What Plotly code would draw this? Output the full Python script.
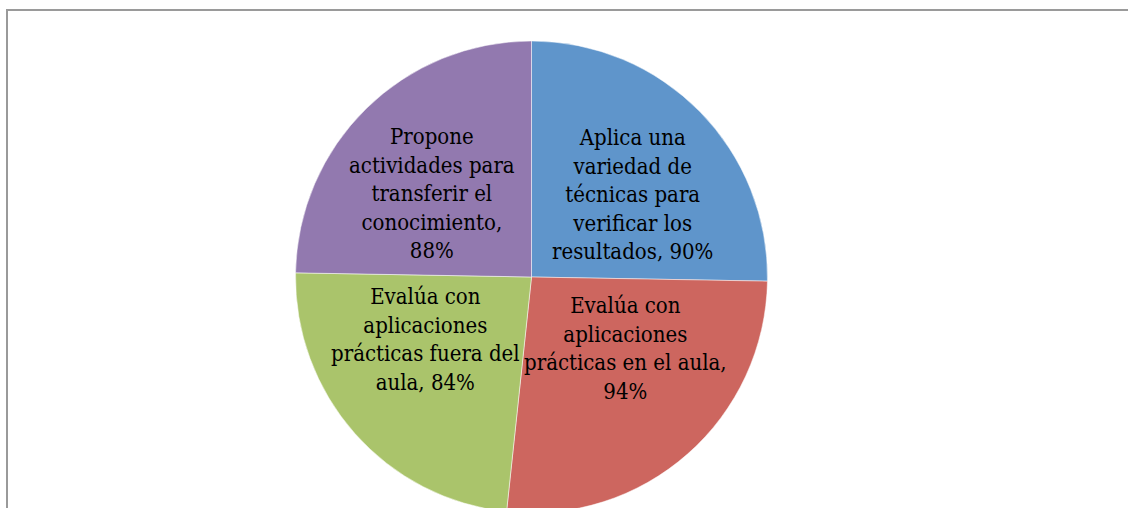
import math
import plotly.graph_objects as go

categories = [
    "Aplica una<br>variedad de<br>técnicas para<br>verificar los<br>resultados",
    "Evalúa con<br>aplicaciones<br>prácticas en el aula",
    "Evalúa con<br>aplicaciones<br>prácticas fuera del<br>aula",
    "Propone<br>actividades para<br>transferir el<br>conocimiento",
]
values = [90, 94, 84, 88]
separators = [", ", ",<br>", ", ", ",<br>"]
colors = ["#5F95CB", "#CD665F", "#AAC46B", "#9279AF"]

W, H = 1128, 508
OFF_Y = 8                      # body top margin of the page
cx, cy, r = 531.5, 277, 236    # screen pixels
fy = cy - OFF_Y                # figure pixel

fig = go.Figure(go.Pie(
    labels=categories,
    values=values,
    sort=False,
    direction="clockwise",
    rotation=0,
    marker=dict(colors=colors, line=dict(color="white", width=0.5)),
    textinfo="none",
    showlegend=False,
    hoverinfo="label+value",
    domain=dict(x=[(cx - r) / W, (cx + r) / W],
                y=[(H - (fy + r)) / H, (H - (fy - r)) / H]),
))

# labels placed at each slice's mid-angle (derived from the values)
total = sum(values)
annotations = []
start = 0.0
for lab, v, sep in zip(categories, values, separators):
    a = math.radians((start + v / 2) / total * 360)
    start += v
    px = cx + 0.60 * r * math.sin(a)
    py = fy - 0.45 * r * math.cos(a) - 8
    annotations.append(dict(
        x=px / W, y=(H - py) / H, xref="paper", yref="paper",
        text=f"{lab}{sep}{v}%", showarrow=False,
        xanchor="center", yanchor="middle", align="center",
        font=dict(family="DejaVu Serif Condensed, DejaVu Serif", size=22, color="black"),
    ))

fig.update_layout(
    width=W, height=H,
    margin=dict(l=0, r=0, t=0, b=0),
    paper_bgcolor="white",
    annotations=annotations,
    shapes=[dict(type="rect", xref="paper", yref="paper",
                 x0=7 / W, x1=1.02, y0=-0.02, y1=(H - (10 - OFF_Y)) / H,
                 line=dict(color="#9A9A9A", width=2), fillcolor="rgba(0,0,0,0)")],
)

fig.write_html("out.html", post_script="document.body.style.margin='8px 0 0 0';")
